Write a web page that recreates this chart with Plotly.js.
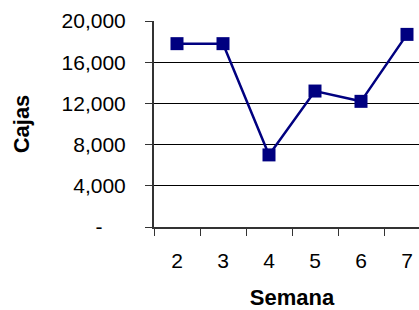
<!DOCTYPE html>
<html>
<head>
<meta charset="utf-8">
<script src="https://cdn.plot.ly/plotly-3.0.1.min.js"></script>
<style>html,body{margin:0;padding:0;overflow:hidden;background:#fff;}</style>
</head>
<body>
<div id="chart"></div>
<script>
var semanas = ["2", "3", "4", "5", "6", "7"];
var cajas = [17800, 17800, 7000, 13200, 12200, 18700];
var yTickVals = [0, 4000, 8000, 12000, 16000, 20000];
var yTickText = ["-\u00a0\u00a0\u00a0\u00a0", "4,000", "8,000", "12,000", "16,000", "20,000"];

var trace = {
  x: semanas,
  y: cajas,
  type: "scatter",
  mode: "lines+markers",
  line: {color: "#000080", width: 2.5},
  marker: {symbol: "square", size: 13, color: "#000080"},
  cliponaxis: false
};

var font = {family: "Liberation Sans, Arial, sans-serif", size: 21, color: "#000"};
var titleFont = {family: "Liberation Sans, Arial, sans-serif", size: 22, color: "#000", weight: "bold"};

var layout = {
  width: 440,
  height: 310,
  margin: {l: 154, r: 10, t: 21, b: 83},
  paper_bgcolor: "#fff",
  plot_bgcolor: "#fff",
  showlegend: false,
  font: font,
  xaxis: {
    type: "category",
    range: [-0.5, 5.5],
    tickson: "boundaries",
    ticks: "outside",
    ticklen: 7,
    tickwidth: 1,
    tickcolor: "#333",
    ticklabelstandoff: 14,
    showline: true,
    linecolor: "#333",
    linewidth: 2,
    showgrid: false,
    zeroline: false,
    tickfont: font,
    title: {text: "Semana", font: titleFont, standoff: 25}
  },
  yaxis: {
    range: [0, 20000],
    tickvals: yTickVals,
    ticktext: yTickText,
    ticks: "outside",
    ticklen: 7,
    tickwidth: 1,
    tickcolor: "#333",
    ticklabelstandoff: 15,
    showline: true,
    linecolor: "#333",
    linewidth: 2,
    showgrid: true,
    gridcolor: "#000",
    gridwidth: 1,
    zeroline: false,
    tickfont: font,
    title: {text: "Cajas", font: titleFont, standoff: 26}
  }
};

Plotly.newPlot("chart", [trace], layout, {displayModeBar: false, staticPlot: true});
</script>
</body>
</html>
